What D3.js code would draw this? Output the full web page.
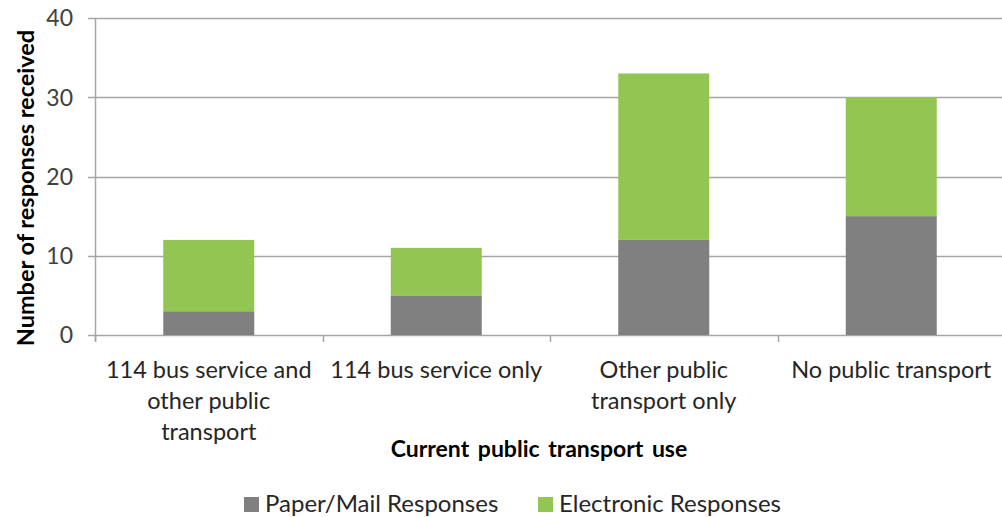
<!DOCTYPE html>
<html>
<head>
<meta charset="utf-8">
<script src="https://cdn.jsdelivr.net/npm/d3@7"></script>
<style>
  html, body { margin: 0; padding: 0; background: #fff; }
  svg { display: block; font-family: Lato, "Open Sans", sans-serif; }
</style>
</head>
<body>
<svg id="chart" width="1002" height="517"></svg>
<script>
// Survey responses by current public transport use
const categories = [
  "114 bus service and\nother public\ntransport",
  "114 bus service only",
  "Other public\ntransport only",
  "No public transport"
];
const paperResponses = [3, 5, 12, 15];
const electronicResponses = [9, 6, 21, 15];
const yTicks = [0, 10, 20, 30, 40];
const seriesNames = ["Paper/Mail Responses", "Electronic Responses"];
const seriesColors = ["#808080", "#92c551"];

const svg = d3.select("#chart");
const margin = { left: 95, right: -3, top: 18, bottom: 182 };
const W = 1002, H = 517;
const plotBottom = H - margin.bottom; // 335

const x = d3.scaleBand()
  .domain(categories)
  .range([margin.left, W - margin.right])
  .paddingInner(0.6)
  .paddingOuter(0.3);

const y = d3.scaleLinear()
  .domain([0, 40])
  .range([plotBottom, margin.top]);

// gridlines
svg.append("g")
  .selectAll("line")
  .data(yTicks)
  .join("line")
  .attr("x1", margin.left - 7)
  .attr("x2", W)
  .attr("y1", d => Math.round(y(d)) + 0.5)
  .attr("y2", d => Math.round(y(d)) + 0.5)
  .attr("stroke", "#a6a6a6")
  .attr("stroke-width", 1.5);

// y axis line
svg.append("line")
  .attr("x1", margin.left + 0.5).attr("x2", margin.left + 0.5)
  .attr("y1", y(40)).attr("y2", plotBottom + 7)
  .attr("stroke", "#a6a6a6").attr("stroke-width", 1.5);

// category tick marks on the x axis
const boundaries = d3.range(categories.length + 1).map(i => margin.left + i * (W - margin.right - margin.left) / categories.length);
svg.append("g")
  .selectAll("line")
  .data(boundaries)
  .join("line")
  .attr("x1", d => Math.round(d) + 0.5).attr("x2", d => Math.round(d) + 0.5)
  .attr("y1", plotBottom).attr("y2", plotBottom + 7)
  .attr("stroke", "#a6a6a6").attr("stroke-width", 1.5);

// stacked bars
const rows = categories.map((c, i) => ({ cat: c, paper: paperResponses[i], electronic: electronicResponses[i] }));
const stack = d3.stack().keys(["paper", "electronic"]);
const stacked = stack(rows);

svg.append("g")
  .selectAll("g")
  .data(stacked)
  .join("g")
  .attr("fill", (d, i) => seriesColors[i])
  .selectAll("rect")
  .data(d => d)
  .join("rect")
  .attr("x", d => x(d.data.cat))
  .attr("width", x.bandwidth())
  .attr("y", d => y(d[1]))
  .attr("height", d => y(d[0]) - y(d[1]));

// y tick labels
svg.append("g")
  .selectAll("text")
  .data(yTicks)
  .join("text")
  .attr("x", 73)
  .attr("y", d => y(d))
  .attr("dy", "0.36em")
  .attr("text-anchor", "end")
  .attr("font-size", 23)
  .attr("fill", "#404040")
  .text(d => d);

// category labels
const catLabels = svg.append("g")
  .selectAll("text")
  .data(categories)
  .join("text")
  .attr("text-anchor", "middle")
  .attr("font-size", 23.5)
  .attr("fill", "#262626");
catLabels.each(function(d) {
  const t = d3.select(this);
  d.split("\n").forEach((line, j) => {
    t.append("tspan")
      .attr("x", x(d) + x.bandwidth() / 2)
      .attr("y", 378 + j * 31)
      .text(line);
  });
});

// axis titles
svg.append("text")
  .attr("x", 539).attr("y", 457)
  .attr("text-anchor", "middle")
  .attr("font-size", 23)
  .attr("font-weight", "bold")
  .attr("word-spacing", 3)
  .attr("fill", "#000")
  .text("Current public transport use");

svg.append("text")
  .attr("transform", "translate(34,188) rotate(-90)")
  .attr("text-anchor", "middle")
  .attr("font-size", 23.5)
  .attr("font-weight", "bold")
  .attr("fill", "#000")
  .text("Number of responses received");

// legend
const legendItems = [
  { name: seriesNames[0], color: seriesColors[0], x: 244 },
  { name: seriesNames[1], color: seriesColors[1], x: 538 }
];
const lg = svg.append("g").selectAll("g").data(legendItems).join("g")
  .attr("transform", d => `translate(${d.x},0)`);
lg.append("rect")
  .attr("x", 0).attr("y", 497).attr("width", 15).attr("height", 15)
  .attr("fill", d => d.color);
lg.append("text")
  .attr("x", 21).attr("y", 512)
  .attr("font-size", 24)
  .attr("fill", "#262626")
  .text(d => d.name);
</script>
</body>
</html>
